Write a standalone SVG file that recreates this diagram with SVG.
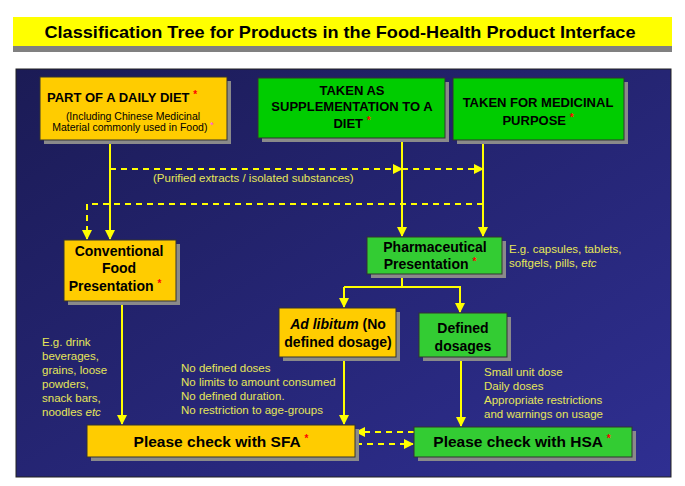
<svg xmlns="http://www.w3.org/2000/svg" width="685" height="486" viewBox="0 0 685 486">
<defs>
<linearGradient id="bg" x1="0" y1="0" x2="1" y2="1">
<stop offset="0" stop-color="#1b1b55"/>
<stop offset="1" stop-color="#2f2f92"/>
</linearGradient>
<marker id="ar" viewBox="0 0 10 10" refX="9" refY="5" markerWidth="10" markerHeight="10" orient="auto" markerUnits="userSpaceOnUse">
<path d="M0,0 L10,5 L0,10 z" fill="#ffff00"/>
</marker>
</defs>
<style>
.sh{fill:#8a8a8a}
.y{fill:#ffcc00;stroke:#333;stroke-width:1}
.g{fill:#00cc00;stroke:#333;stroke-width:1}
.g2{fill:#33cc33;stroke:#333;stroke-width:1}
.bt{font-family:"Liberation Sans",Arial,sans-serif;font-weight:bold;fill:#000;text-anchor:middle}
.st{font-family:"Liberation Sans",Arial,sans-serif;fill:#000;text-anchor:middle;font-size:10.5px}
.an{font-family:"Liberation Sans",Arial,sans-serif;fill:#e6e658;font-size:11.5px}
.ast{fill:#ff0000}
.line{stroke:#ffff00;stroke-width:2;fill:none}
.dash{stroke:#ffff00;stroke-width:2;fill:none;stroke-dasharray:6,5}
</style>
<rect x="0" y="0" width="685" height="486" fill="#ffffff"/>
<g id="title">
<rect x="13" y="17" width="659" height="29" fill="#ffff00"/>
<rect x="13" y="46" width="659" height="6" fill="#808080"/>
<text x="340" y="38" class="bt" font-size="17" textLength="591" lengthAdjust="spacingAndGlyphs">Classification Tree for Products in the Food-Health Product Interface</text>
</g>
<rect id="panel" x="16" y="69" width="655" height="408" fill="url(#bg)" stroke="#222" stroke-width="1"/>

<g id="connectors">
<line class="line" x1="110" y1="140" x2="110" y2="239" marker-end="url(#ar)"/>
<polyline class="dash" points="110,169 402,169" marker-end="url(#ar)"/>
<polyline class="dash" points="402,169 483,169" marker-end="url(#ar)"/>
<polyline class="dash" points="483,204 87,204 87,239" marker-end="url(#ar)"/>
<line class="line" x1="402" y1="138" x2="402" y2="236" marker-end="url(#ar)"/>
<line class="line" x1="483" y1="140" x2="483" y2="236" marker-end="url(#ar)"/>
<polyline class="line" points="402,274 402,287"/>
<polyline class="line" points="344,287 460,287 460,312" marker-end="url(#ar)"/>
<line class="line" x1="344" y1="287" x2="344" y2="307" marker-end="url(#ar)"/>
<line class="line" x1="122" y1="301" x2="122" y2="424" marker-end="url(#ar)"/>
<line class="line" x1="344" y1="357" x2="344" y2="424" marker-end="url(#ar)"/>
<line class="line" x1="461" y1="357" x2="461" y2="426" marker-end="url(#ar)"/>
<line class="dash" x1="414" y1="432" x2="356" y2="432" marker-end="url(#ar)"/>
<line class="dash" x1="356" y1="444" x2="413" y2="444" marker-end="url(#ar)"/>
</g>

<g id="daily-diet">
<rect class="sh" x="44" y="81" width="187" height="63"/>
<rect class="y" x="40" y="77" width="187" height="63"/>
<text x="122" y="102" class="bt" font-size="13">PART OF A DAILY DIET <tspan class="ast" font-size="10" dy="-4">*</tspan></text>
<text x="133" y="120" class="st">(Including Chinese Medicinal</text>
<text x="133" y="131" class="st">Material commonly used in Food) <tspan fill="#ff44ff" font-size="9" dy="-3">*</tspan></text>
</g>

<g id="supplementation">
<rect class="sh" x="262" y="82" width="187" height="60"/>
<rect class="g" x="258" y="78" width="187" height="60"/>
<text x="352" y="95" class="bt" font-size="13">TAKEN AS</text>
<text x="352" y="111" class="bt" font-size="13">SUPPLEMENTATION TO A</text>
<text x="352" y="128" class="bt" font-size="13">DIET <tspan class="ast" font-size="10" dy="-4">*</tspan></text>
</g>

<g id="medicinal">
<rect class="sh" x="457" y="82" width="171" height="62"/>
<rect class="g" x="453" y="78" width="171" height="62"/>
<text x="538" y="107" class="bt" font-size="13">TAKEN FOR MEDICINAL</text>
<text x="538" y="125" class="bt" font-size="13">PURPOSE <tspan class="ast" font-size="10" dy="-4">*</tspan></text>
</g>

<text id="purified-label" x="153" y="182" class="an" font-size="11">(Purified extracts / isolated substances)</text>

<g id="conventional-food">
<rect class="sh" x="68" y="244" width="112" height="61"/>
<rect class="y" x="64" y="240" width="112" height="61"/>
<text x="119" y="256" class="bt" font-size="14">Conventional</text>
<text x="119" y="273" class="bt" font-size="14">Food</text>
<text x="115" y="291" class="bt" font-size="14">Presentation <tspan class="ast" font-size="10" dy="-4">*</tspan></text>
</g>

<g id="pharmaceutical">
<rect class="sh" x="371" y="241" width="135" height="37"/>
<rect class="g2" x="367" y="237" width="135" height="37"/>
<text x="435" y="252" class="bt" font-size="14">Pharmaceutical</text>
<text x="430" y="269" class="bt" font-size="14">Presentation <tspan class="ast" font-size="10" dy="-4">*</tspan></text>
</g>
<text id="pharma-eg" class="an"><tspan x="509" y="253">E.g. capsules, tablets,</tspan><tspan x="509" y="267">softgels, pills, <tspan font-style="italic">etc</tspan></tspan></text>

<g id="ad-libitum">
<rect class="sh" x="283" y="312" width="117" height="49"/>
<rect class="y" x="279" y="308" width="117" height="49"/>
<text x="338" y="329" class="bt" font-size="14"><tspan font-style="italic">Ad libitum</tspan> (No</text>
<text x="338" y="347" class="bt" font-size="14">defined dosage)</text>
</g>

<g id="defined-dosages">
<rect class="sh" x="423" y="317" width="88" height="44"/>
<rect class="g2" x="419" y="313" width="88" height="44"/>
<text x="463" y="333" class="bt" font-size="14">Defined</text>
<text x="463" y="351" class="bt" font-size="14">dosages</text>
</g>

<text id="food-eg" class="an"><tspan x="42" y="346">E.g. drink</tspan><tspan x="42" y="360">beverages,</tspan><tspan x="42" y="374">grains, loose</tspan><tspan x="42" y="388">powders,</tspan><tspan x="42" y="402">snack bars,</tspan><tspan x="42" y="416">noodles <tspan font-style="italic">etc</tspan></tspan></text>

<text id="adlib-notes" class="an" font-size="11"><tspan x="181" y="372">No defined doses</tspan><tspan x="181" y="386">No limits to amount consumed</tspan><tspan x="181" y="400">No defined duration.</tspan><tspan x="181" y="414">No restriction to age-groups</tspan></text>

<text id="dose-notes" class="an" font-size="11"><tspan x="484" y="376">Small unit dose</tspan><tspan x="484" y="390">Daily doses</tspan><tspan x="484" y="404">Appropriate restrictions</tspan><tspan x="484" y="418">and warnings on usage</tspan></text>

<g id="sfa">
<rect class="sh" x="91" y="429" width="268" height="32"/>
<rect class="y" x="87" y="425" width="268" height="32"/>
<text x="221" y="447" class="bt" font-size="15.5">Please check with SFA <tspan class="ast" font-size="10" dy="-5">*</tspan></text>
</g>

<g id="hsa">
<rect class="sh" x="418" y="431" width="218" height="30"/>
<rect class="g2" x="414" y="427" width="218" height="30"/>
<text x="522" y="447" class="bt" font-size="15.5">Please check with HSA <tspan class="ast" font-size="10" dy="-5">*</tspan></text>
</g>
</svg>
